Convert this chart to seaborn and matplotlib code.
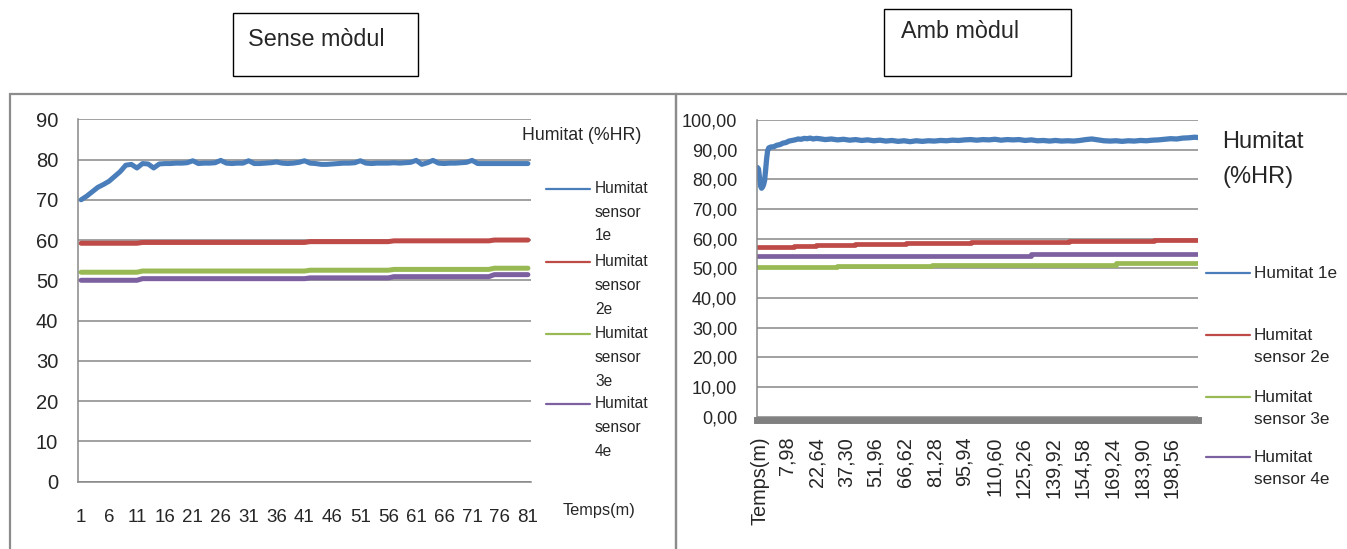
import matplotlib
matplotlib.use("Agg")
import matplotlib.pyplot as plt
from matplotlib.lines import Line2D
from matplotlib.patches import Rectangle
import seaborn as sns

# --- data: left chart (sense modul), one reading per minute ---
minutes = list(range(1, 82))
hum_s1 = [70.0, 70.9, 72.0, 73.1, 73.8, 74.6, 75.8, 77.0, 78.6, 78.8,
          77.9, 79.0, 78.9, 77.9, 78.9, 79.0, 79.0, 79.1, 79.1, 79.2,
          79.7, 79.0, 79.1, 79.1, 79.2, 79.8, 79.1, 79.0, 79.1, 79.1,
          79.7, 79.0, 79.0, 79.1, 79.2, 79.4, 79.1, 79.0, 79.1, 79.3,
          79.7, 79.1, 79.0, 78.8, 78.8, 78.9, 79.0, 79.1, 79.1, 79.2,
          79.7, 79.1, 79.0, 79.1, 79.1, 79.1, 79.2, 79.1, 79.2, 79.3,
          79.8, 78.8, 79.2, 79.8, 79.1, 79.0, 79.1, 79.1, 79.2, 79.3,
          79.8, 79.0, 79.0, 79.0, 79.0, 79.0, 79.0, 79.0, 79.0, 79.0, 79.0]
hum_s2 = [59.2, 59.2, 59.2, 59.2, 59.2, 59.2, 59.2, 59.2, 59.2, 59.2,
          59.2, 59.4, 59.4, 59.4, 59.4, 59.4, 59.4, 59.4, 59.4, 59.4,
          59.4, 59.4, 59.4, 59.4, 59.4, 59.4, 59.4, 59.4, 59.4, 59.4,
          59.4, 59.4, 59.4, 59.4, 59.4, 59.4, 59.4, 59.4, 59.4, 59.4,
          59.4, 59.6, 59.6, 59.6, 59.6, 59.6, 59.6, 59.6, 59.6, 59.6,
          59.6, 59.6, 59.6, 59.6, 59.6, 59.6, 59.8, 59.8, 59.8, 59.8,
          59.8, 59.8, 59.8, 59.8, 59.8, 59.8, 59.8, 59.8, 59.8, 59.8,
          59.8, 59.8, 59.8, 59.8, 60.0, 60.0, 60.0, 60.0, 60.0, 60.0, 60.0]
hum_s3 = [52.0, 52.0, 52.0, 52.0, 52.0, 52.0, 52.0, 52.0, 52.0, 52.0,
          52.0, 52.3, 52.3, 52.3, 52.3, 52.3, 52.3, 52.3, 52.3, 52.3,
          52.3, 52.3, 52.3, 52.3, 52.3, 52.3, 52.3, 52.3, 52.3, 52.3,
          52.3, 52.3, 52.3, 52.3, 52.3, 52.3, 52.3, 52.3, 52.3, 52.3,
          52.3, 52.5, 52.5, 52.5, 52.5, 52.5, 52.5, 52.5, 52.5, 52.5,
          52.5, 52.5, 52.5, 52.5, 52.5, 52.5, 52.7, 52.7, 52.7, 52.7,
          52.7, 52.7, 52.7, 52.7, 52.7, 52.7, 52.7, 52.7, 52.7, 52.7,
          52.7, 52.7, 52.7, 52.7, 53.0, 53.0, 53.0, 53.0, 53.0, 53.0, 53.0]
hum_s4 = [50.0, 50.0, 50.0, 50.0, 50.0, 50.0, 50.0, 50.0, 50.0, 50.0,
          50.0, 50.4, 50.4, 50.4, 50.4, 50.4, 50.4, 50.4, 50.4, 50.4,
          50.4, 50.4, 50.4, 50.4, 50.4, 50.4, 50.4, 50.4, 50.4, 50.4,
          50.4, 50.4, 50.4, 50.4, 50.4, 50.4, 50.4, 50.4, 50.4, 50.4,
          50.4, 50.6, 50.6, 50.6, 50.6, 50.6, 50.6, 50.6, 50.6, 50.6,
          50.6, 50.6, 50.6, 50.6, 50.6, 50.6, 50.9, 50.9, 50.9, 50.9,
          50.9, 50.9, 50.9, 50.9, 50.9, 50.9, 50.9, 50.9, 50.9, 50.9,
          50.9, 50.9, 50.9, 50.9, 51.4, 51.4, 51.4, 51.4, 51.4, 51.4, 51.4]
left_ticks = [1, 6, 11, 16, 21, 26, 31, 36, 41, 46, 51, 56, 61, 66, 71, 76, 81]
left_yticks = [0, 10, 20, 30, 40, 50, 60, 70, 80, 90]
left_labels = ["Humitat\nsensor\n1e", "Humitat\nsensor\n2e",
               "Humitat\nsensor\n3e", "Humitat\nsensor\n4e"]

# --- data: right chart (amb modul), time in minutes ---
t_1e = [-6.7, -6.1, -5.6, -5.1, -4.6, -4.1, -3.6, -3.1, -2.6, -2.1, -1.6, -1.0,
        0.0, 1.5, 3.0, 4.5, 6.0, 7.5, 9.0, 10.5, 12.0, 13.5, 15.0, 16.5, 18.0,
        19.5, 21.0, 22.5, 24.0, 27, 30, 33, 36, 39, 42, 45, 48, 51, 54, 57, 60,
        63, 66, 69, 72, 75, 78, 81, 84, 87, 90, 93, 96, 99, 102, 105, 108, 111,
        114, 117, 120, 123, 126, 129, 132, 135, 138, 141, 144, 147, 150, 153,
        156, 159, 162, 165, 168, 171, 174, 177, 180, 183, 186, 189, 192, 195,
        198, 201, 204, 207, 210, 211.4]
hum_1e = [84.0, 83.5, 80.5, 77.8, 77.0, 77.4, 78.2, 79.5, 83.0, 86.8, 89.6, 90.6,
          90.9, 91.0, 91.5, 91.7, 92.2, 92.4, 92.9, 93.1, 93.3, 93.6, 93.5, 93.8,
          93.7, 93.9, 93.6, 93.8, 93.7, 93.4, 93.6, 93.3, 93.5, 93.2, 93.4, 93.1,
          93.3, 93.0, 93.2, 92.9, 93.1, 92.8, 93.0, 92.7, 93.0, 92.8, 93.0, 92.9,
          93.1, 93.0, 93.2, 93.1, 93.3, 93.4, 93.2, 93.4, 93.3, 93.5, 93.2, 93.4,
          93.3, 93.4, 93.1, 93.3, 93.0, 93.1, 92.9, 93.1, 92.9, 93.0, 92.9, 93.1,
          93.4, 93.6, 93.3, 93.0, 92.9, 93.0, 92.8, 93.0, 92.9, 93.1, 93.0, 93.2,
          93.3, 93.5, 93.7, 93.6, 93.9, 94.0, 94.2, 94.1]
t_2e = [-6.7, 11.7, 22.6, 41.5, 67.0, 98.9, 147.7, 190.0, 211.4]
hum_2e = [57.3, 57.6, 57.9, 58.3, 58.7, 59.0, 59.3, 59.5, 59.5]
t_3e = [-6.7, 33.0, 79.7, 171.0, 211.4]
hum_3e = [50.3, 50.7, 51.2, 51.7, 51.7]
t_4e = [-6.7, 128.6, 211.4]
hum_4e = [54.3, 54.7, 54.7]
right_tick_pos = [-5.4, 7.98, 22.64, 37.30, 51.96, 66.62, 81.28, 95.94, 110.60,
                  125.26, 139.92, 154.58, 169.24, 183.90, 198.56]
right_tick_lab = ["Temps(m)", "7,98", "22,64", "37,30", "51,96", "66,62", "81,28",
                  "95,94", "110,60", "125,26", "139,92", "154,58", "169,24",
                  "183,90", "198,56"]
right_yticks = [0, 10, 20, 30, 40, 50, 60, 70, 80, 90, 100]
right_ylab = ["0,00", "10,00", "20,00", "30,00", "40,00", "50,00", "60,00",
              "70,00", "80,00", "90,00", "100,00"]
right_labels = ["Humitat 1e", "Humitat\nsensor 2e", "Humitat\nsensor 3e",
                "Humitat\nsensor 4e"]

COLORS = ["#4A7EBB", "#BE4B48", "#98B954", "#7D60A0"]
GRID = "#878787"
W, H = 1347, 549


def fx(p):
    return p / W


def fy(p):
    return 1 - p / H


sns.set_style("white")
plt.rcParams["font.family"] = ["Liberation Sans", "DejaVu Sans"]

fig = plt.figure(figsize=(W / 100, H / 100), dpi=100)

# chart frames
for x0, x1 in [(10, 676), (676, 1352)]:
    fig.add_artist(Rectangle((fx(x0), fy(560)), fx(x1) - fx(x0), fy(94) - fy(560),
                             transform=fig.transFigure, fill=False,
                             edgecolor="#8c8c8c", lw=1.6))

# title boxes
for (x0, y0, x1, y1), title, tx, ty in [((233, 13, 418, 76), "Sense mòdul", 248, 40),
                                        ((884, 9, 1071, 76), "Amb mòdul", 901, 32)]:
    fig.add_artist(Rectangle((fx(x0), fy(y1)), fx(x1) - fx(x0), fy(y0) - fy(y1),
                             transform=fig.transFigure, fill=False,
                             edgecolor="black", lw=1.0))
    fig.text(fx(tx), fy(ty), title, fontsize=16.8, va="center", ha="left")

# ---------------- left chart ----------------
ax1 = fig.add_axes([fx(78.3), fy(481.5), fx(530.7) - fx(78.3), fy(119.3) - fy(481.5)])
for vals, c in zip([hum_s1, hum_s2, hum_s3, hum_s4], COLORS):
    sns.lineplot(x=minutes, y=vals, ax=ax1, color=c, linewidth=3.6, legend=False)
ax1.set_xlim(0.5, 81.5)
ax1.set_ylim(0, 90)
ax1.set_yticks(left_yticks)
ax1.set_yticklabels([str(v) for v in left_yticks])
ax1.set_xticks(left_ticks)
ax1.set_xticklabels([str(v) for v in left_ticks])
ax1.set_xticks([m - 0.5 for m in minutes] + [81.5], minor=True)
ax1.tick_params(axis="x", which="major", length=0, pad=20, labelsize=13.5)
ax1.tick_params(axis="x", which="minor", length=4.5, width=1, color=GRID, direction="out")
ax1.tick_params(axis="y", length=4.5, width=1, color=GRID, direction="out", pad=10,
                labelsize=14.5)
ax1.yaxis.grid(True, color=GRID, lw=1.1)
ax1.set_axisbelow(True)
for s in ["top", "right"]:
    ax1.spines[s].set_visible(False)
for s in ["left", "bottom"]:
    ax1.spines[s].set_color(GRID)
    ax1.spines[s].set_linewidth(1.1)
ax1.set_xlabel("")
ax1.set_ylabel("")

fig.text(fx(522), fy(136), "Humitat (%HR)", fontsize=12.8, va="center", ha="left")
fig.text(fx(563), fy(510), "Temps(m)", fontsize=11.8, va="center", ha="left")
for lab, c, y0 in zip(left_labels, COLORS, [189, 262, 334, 404]):
    fig.add_artist(Line2D([fx(546), fx(590)], [fy(y0), fy(y0)], color=c, lw=1.6,
                          transform=fig.transFigure))
    for i, line in enumerate(lab.split("\n")):
        fig.text(fx(595), fy(y0 + i * 23.5), line, fontsize=11.2, va="center", ha="left")

# ---------------- right chart ----------------
ax2 = fig.add_axes([fx(757.3), fy(416.7), fx(1197.7) - fx(757.3), fy(120) - fy(416.7)])
sns.lineplot(x=t_1e, y=hum_1e, ax=ax2, color=COLORS[0], linewidth=3.8, legend=False)
for tt, vals, c in zip([t_2e, t_3e, t_4e], [hum_2e, hum_3e, hum_4e], COLORS[1:]):
    sns.lineplot(x=tt, y=vals, ax=ax2, color=c, linewidth=3.4, legend=False,
                 drawstyle="steps-post")
ax2.set_xlim(-6.7, 211.4)
ax2.set_ylim(0, 100)
ax2.set_yticks(right_yticks)
ax2.set_yticklabels(right_ylab)
ax2.set_xticks(right_tick_pos)
ax2.set_xticklabels(right_tick_lab)
ax2.tick_params(axis="x", length=0, pad=12, labelsize=14.3, labelrotation=90)
ax2.tick_params(axis="y", length=4.5, width=1, color=GRID, direction="out", pad=10,
                labelsize=13)
ax2.yaxis.grid(True, color=GRID, lw=1.1)
ax2.set_axisbelow(True)
for s in ["top", "right"]:
    ax2.spines[s].set_visible(False)
ax2.spines["left"].set_color(GRID)
ax2.spines["left"].set_linewidth(1.1)
ax2.spines["bottom"].set_color("#808080")
ax2.spines["bottom"].set_linewidth(5.0)
ax2.spines["bottom"].set_position(("outward", 2.5))
ax2.set_xlabel("")
ax2.set_ylabel("")

fig.text(fx(1222), fy(142), "Humitat", fontsize=17, va="center", ha="left")
fig.text(fx(1222), fy(177), "(%HR)", fontsize=17, va="center", ha="left")
for lab, c, y0 in zip(right_labels, COLORS, [273, 335, 397, 457]):
    fig.add_artist(Line2D([fx(1206), fx(1250)], [fy(y0), fy(y0)], color=c, lw=1.6,
                          transform=fig.transFigure))
    for i, line in enumerate(lab.split("\n")):
        fig.text(fx(1254), fy(y0 + i * 23), line, fontsize=12.3, va="center", ha="left")

fig.savefig("out.png", dpi=100)
